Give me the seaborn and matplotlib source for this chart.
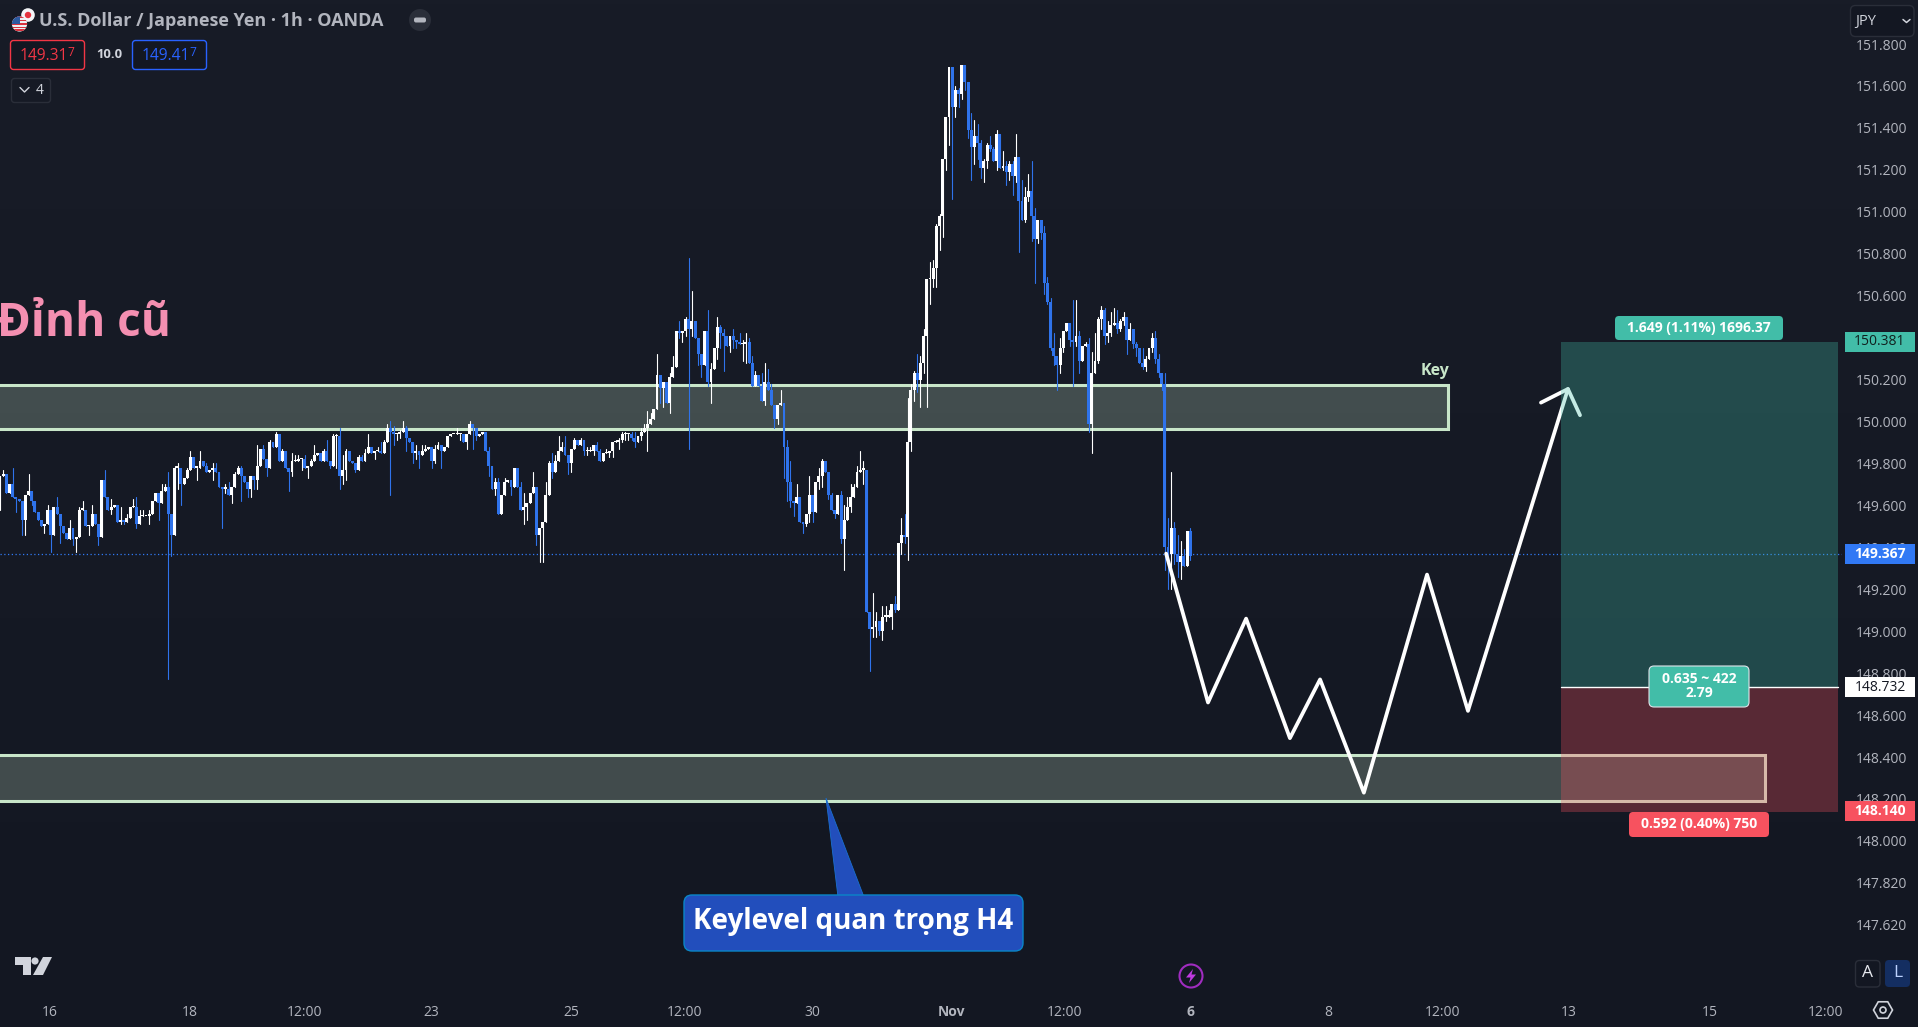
import matplotlib
matplotlib.use("Agg")
import matplotlib.pyplot as plt
from matplotlib.patches import Rectangle, FancyBboxPatch, Polygon, Circle, RegularPolygon
from matplotlib.transforms import Affine2D
import numpy as np
import pandas as pd
import seaborn as sns

# ---- hourly USD/JPY closes ----
first_open = 149.72
closes = [
149.74,149.75,149.66,149.70,149.64,149.63,149.62,149.53,149.65,149.67,149.62,149.57,149.53,149.50,149.51,149.58,
149.46,149.59,149.56,149.50,149.47,149.44,149.49,149.44,149.45,149.58,149.58,149.50,149.50,149.56,149.51,149.45,
149.72,149.64,149.58,149.59,149.60,149.52,149.53,149.52,149.54,149.59,149.59,149.51,149.55,149.55,149.55,149.56,
149.62,149.66,149.61,149.67,149.69,149.56,149.46,149.78,149.78,149.70,149.73,149.77,149.83,149.78,149.78,149.81,
149.79,149.76,149.77,149.78,149.76,149.69,149.68,149.68,149.65,149.69,149.75,149.78,149.74,149.71,149.68,149.74,
149.72,149.79,149.87,149.82,149.78,149.90,149.88,149.94,149.81,149.86,149.78,149.76,149.81,149.81,149.82,149.82,
149.78,149.79,149.81,149.84,149.85,149.81,149.86,149.81,149.79,149.93,149.93,149.74,149.77,149.86,149.81,149.80,
149.77,149.83,149.81,149.85,149.88,149.85,149.86,149.86,149.85,149.90,149.97,149.95,149.94,149.94,149.95,149.97,
149.92,149.90,149.85,149.86,149.84,149.86,149.87,149.88,149.81,149.87,149.89,149.86,149.88,149.93,149.94,149.94,
149.94,149.94,149.90,149.94,149.99,149.97,149.93,149.94,149.95,149.86,149.79,149.68,149.71,149.56,
149.65,149.71,149.72,149.69,149.78,149.69,149.58,149.59,149.61,149.66,149.69,149.46,149.49,149.52,149.65,149.80,
149.76,149.81,149.86,149.88,149.84,149.80,149.87,149.91,149.89,149.91,149.86,149.86,149.86,149.89,149.86,149.81,
149.85,149.85,149.86,149.90,149.90,149.91,149.94,149.94,149.94,149.92,149.90,149.93,149.95,149.97,149.99,150.01,
150.06,150.22,150.16,150.19,150.09,150.21,150.26,150.43,150.42,150.43,150.49,150.44,150.48,150.40,150.32,150.27,
150.43,150.19,150.25,150.35,150.45,150.42,150.41,150.36,150.41,150.39,150.38,150.37,150.37,150.38,150.28,150.17,
150.22,150.17,150.10,150.19,150.15,150.08,150.01,150.08,150.09,149.88,149.71,149.62,149.61,149.64,149.52,149.51,
149.56,149.65,149.57,149.71,149.74,149.81,149.76,149.65,149.58,149.56,149.65,149.44,149.53,149.59,149.64,149.69,
149.76,149.77,149.77,149.09,149.01,149.02,149.05,149.00,149.07,149.07,149.07,149.13,149.10,149.42,149.46,149.45,
149.90,150.15,150.23,150.20,150.28,150.41,150.68,150.68,150.73,150.93,150.98,151.25,151.45,151.69,151.50,151.58,
151.56,151.70,151.62,151.39,151.31,151.36,151.33,151.21,151.24,151.32,151.30,151.24,151.37,151.21,151.22,151.19,
151.23,151.17,151.26,151.05,150.96,151.07,151.10,150.98,150.87,150.96,150.90,150.66,150.57,150.35,150.31,150.27,
150.35,150.43,150.47,150.39,150.38,150.41,150.29,150.36,150.37,149.99,150.23,150.29,150.49,150.53,150.41,150.42,
150.46,150.47,150.44,150.48,150.50,150.39,150.44,150.37,150.35,150.28,150.26,150.30,150.35,150.40,150.30,150.23,
150.18,149.40,149.37,149.49,149.37,149.33,149.36,149.31,149.48,149.36,
]
high_wicks = {
1:149.77,4:149.78,9:149.75,15:149.60,18:149.64,22:149.53,25:149.59,26:149.62,29:149.60,33:149.77,35:149.63,38:149.59,
40:149.56,42:149.63,43:149.64,44:149.58,45:149.58,47:149.58,51:149.70,52:149.70,53:149.76,55:149.79,56:149.80,59:149.78,
60:149.86,63:149.86,65:149.80,67:149.80,68:149.80,71:149.70,72:149.71,74:149.76,75:149.79,76:149.79,81:149.89,83:149.89,
85:149.91,87:149.95,89:149.87,92:149.85,93:149.84,94:149.84,96:149.84,98:149.82,99:149.89,102:149.87,103:149.91,105:149.94,
106:149.94,107:149.97,108:149.84,109:149.87,113:149.84,114:149.84,115:149.87,116:149.94,119:149.88,120:149.90,121:149.91,
122:149.99,123:150.00,124:149.98,126:149.96,127:150.00,128:149.98,131:149.89,133:149.89,134:149.89,137:149.89,138:149.90,
144:149.97,148:150.00,154:149.88,156:149.73,157:149.73,
159:149.73,164:149.71,165:149.66,168:149.76,172:149.71,173:149.81,174:149.85,175:149.84,176:149.93,177:149.90,178:149.93,
181:149.92,183:149.92,185:149.88,186:149.88,188:149.90,189:149.87,191:149.87,194:149.91,195:149.92,196:149.95,197:149.95,
199:149.95,200:149.95,202:149.97,203:149.99,204:150.05,205:150.04,207:150.32,211:150.23,212:150.31,214:150.48,216:150.50,
217:150.78,218:150.62,223:150.53,224:150.28,226:150.50,227:150.46,228:150.44,231:150.44,233:150.42,234:150.39,235:150.42,
236:150.40,237:150.31,238:150.24,240:150.23,241:150.28,242:150.25,243:150.18,246:150.15,248:149.91,249:149.81,251:149.70,
252:149.64,255:149.74,258:149.78,259:149.82,262:149.66,264:149.65,265:149.67,266:149.60,267:149.64,268:149.70,269:149.70,
270:149.79,271:149.86,272:149.81,275:149.18,276:149.09,278:149.12,279:149.12,280:149.10,282:149.17,284:149.54,285:149.56,
286:150.11,287:150.18,
288:150.24,289:150.32,290:150.31,291:150.44,293:150.76,294:150.77,295:150.94,296:150.99,298:151.33,299:151.55,300:151.69,
301:151.60,302:151.59,303:151.70,306:151.47,307:151.44,308:151.42,309:151.34,310:151.25,311:151.33,312:151.36,313:151.31,
314:151.39,316:151.29,317:151.24,318:151.24,319:151.24,320:151.37,322:151.15,323:151.12,324:151.18,325:151.24,326:151.02,
327:150.96,329:150.93,330:150.69,331:150.59,332:150.42,334:150.40,336:150.47,338:150.58,339:150.58,340:150.43,342:150.38,
343:150.40,344:150.33,345:150.42,346:150.50,347:150.55,348:150.54,349:150.48,350:150.52,351:150.54,352:150.53,353:150.49,
354:150.52,356:150.47,358:150.38,360:150.35,361:150.31,363:150.42,364:150.43,365:150.32,366:150.23,367:150.23,
368:149.54,369:149.76,370:149.52,371:149.46,372:149.43,373:149.39,375:149.49,
}
low_wicks = {
0:149.58,5:149.57,7:149.46,8:149.46,10:149.60,14:149.47,16:149.38,19:149.42,21:149.44,23:149.41,24:149.38,28:149.46,31:149.41,
35:149.56,38:149.51,39:149.51,43:149.49,47:149.51,50:149.53,53:148.77,54:149.36,56:149.68,57:149.60,62:149.72,67:149.72,
70:149.49,71:149.66,73:149.61,76:149.62,78:149.64,79:149.64,80:149.68,81:149.68,84:149.74,91:149.67,92:149.74,95:149.77,
97:149.73,104:149.78,106:149.78,107:149.68,108:149.70,109:149.72,112:149.76,118:149.82,123:149.65,124:149.89,125:149.91,
126:149.92,128:149.86,130:149.80,131:149.82,132:149.78,136:149.78,137:149.80,139:149.78,145:149.91,147:149.87,149:149.87,
150:149.91,154:149.74,156:149.65,
161:149.65,165:149.51,166:149.53,169:149.41,170:149.33,171:149.33,174:149.73,179:149.75,180:149.76,184:149.84,185:149.84,
187:149.84,192:149.83,193:149.83,195:149.87,196:149.90,197:149.91,198:149.91,199:149.91,200:149.88,202:149.91,204:149.86,
208:150.09,209:150.07,210:150.09,211:150.04,214:150.40,215:150.38,216:150.41,217:149.87,218:150.41,220:150.27,221:150.21,
223:150.17,224:150.09,226:150.30,227:150.35,228:150.24,230:150.33,231:150.35,232:150.35,234:150.29,235:150.28,238:150.17,
241:150.08,244:149.97,245:149.99,247:149.73,248:149.62,249:149.59,250:149.55,251:149.61,253:149.47,254:149.50,255:149.52,
256:149.52,258:149.68,259:149.69,261:149.63,263:149.54,265:149.42,266:149.29,268:149.57,272:149.70,274:148.81,275:148.97,
276:148.97,277:148.98,278:148.96,279:149.05,281:149.01,282:149.09,284:149.37,285:149.42,286:149.34,287:149.86,
288:150.10,289:150.14,290:150.07,291:150.23,292:150.07,293:150.56,294:150.64,295:150.64,296:150.82,297:150.88,298:151.20,
299:151.32,300:151.06,301:151.45,302:151.50,303:151.54,304:151.58,305:151.35,306:151.15,307:151.23,308:151.25,309:151.16,
310:151.14,311:151.21,312:151.29,314:151.20,316:151.20,317:151.13,318:151.15,319:151.08,320:151.14,321:150.81,323:150.95,
324:151.05,325:150.86,326:150.66,327:150.85,328:150.87,329:150.61,330:150.56,331:150.34,332:150.27,333:150.15,334:150.23,
335:150.33,337:150.36,338:150.17,339:150.36,340:150.23,341:150.29,343:149.95,344:149.85,346:150.28,347:150.44,348:150.37,
349:150.38,350:150.41,352:150.42,353:150.43,354:150.46,355:150.32,357:150.35,358:150.31,359:150.28,360:150.25,361:150.24,
363:150.33,364:150.28,365:150.21,366:150.15,367:149.29,368:149.20,369:149.20,370:149.32,371:149.26,372:149.25,373:149.31,375:149.34,
}

# ---- drawings: prices and bar indexes ----
upper_zone = (150.172, 149.963)
lower_zone = (148.41, 148.19)
upper_zone_end = 456.3
lower_zone_end = 556.0
plan_bars = [367.4, 380.6, 392.6, 406.4, 415.9, 429.7, 449.6, 462.5, 494.0]
plan_prices = [149.37, 148.66, 149.06, 148.49, 148.77, 148.23, 149.27, 148.62, 150.155]
head_bars = [485.5, 494.0, 497.8]
head_prices = [150.09, 150.155, 150.03]
pos_start, pos_end = 491.8, 579.1
target, entry, stop, last_price = 150.381, 148.732, 148.14, 149.367

y_ticks = [151.8, 151.6, 151.4, 151.2, 151.0, 150.8, 150.6, 150.4, 150.2, 150.0, 149.8, 149.6, 149.4, 149.2,
           149.0, 148.8, 148.6, 148.4, 148.2, 148.0, 147.8, 147.6]
y_labels = ["151.800", "151.600", "151.400", "151.200", "151.000", "150.800", "150.600", "150.400", "150.200",
            "150.000", "149.800", "149.600", "149.400", "149.200", "149.000", "148.800", "148.600", "148.400",
            "148.200", "148.000", "147.820", "147.620"]
x_ticks = [15.8, 59.9, 96.1, 135.8, 179.9, 215.8, 255.8, 299.9, 335.5, 375.2, 418.4, 454.6, 494.3, 538.8, 575.0]
x_labels = ["16", "18", "12:00", "23", "25", "12:00", "30", "Nov", "12:00", "6", "8", "12:00", "13", "15", "12:00"]

BLUE = "#2f73eb"
GREEN = "#42bda8"
RED = "#f7525f"
ZONE = "#c8e6c9"
GREY = "#b2b5be"

sns.set_theme(style="dark", rc={"axes.grid": False, "axes.facecolor": "none", "axes.edgecolor": "none"})
plt.rcParams["font.family"] = ["Open Sans", "Noto Sans", "DejaVu Sans"]

W, H = 1918, 1027
fig = plt.figure(figsize=(W / 100, H / 100), dpi=100)
px = Affine2D().scale(1, -1).translate(0, H)  # pixel placement of interface chrome

bg = fig.add_axes([0, 0, 1, 1], zorder=-5)
bg.imshow(np.linspace(0, 1, 256).reshape(-1, 1), aspect="auto",
          cmap=matplotlib.colors.LinearSegmentedColormap.from_list("b", ["#181c27", "#131722"]))
bg.axis("off")

ax = fig.add_axes([0, 37 / H, 1842 / W, 990 / H])
ax.set_xlim(0, 1842 / 3.174)
ax.set_ylim(147.289, 152.01)

# zones
for (top, bot), end in ((upper_zone, upper_zone_end), (lower_zone, lower_zone_end)):
    ax.add_patch(Rectangle((-5, bot), end + 5, top - bot, fc=ZONE, alpha=0.25, ec="none", zorder=1))
    ax.add_patch(Rectangle((-5, bot), end + 5, top - bot, fc="none", ec=ZONE, lw=2.2, zorder=1.2))

ax.axhline(last_price, color="#3179f5", lw=0.9, ls=(0, (1, 2)), zorder=1.5)

# candles
bars = np.arange(len(closes))
c = np.array(closes)
o = np.r_[first_open, c[:-1]]
is_up = c >= o
hi = np.array([max(o[i], c[i], high_wicks.get(i, 0)) for i in bars])
lo = np.array([min(o[i], c[i], low_wicks.get(i, 999)) for i in bars])
wick_df = pd.DataFrame({"bar": np.r_[bars, bars], "price": np.r_[lo, hi], "side": np.r_[is_up, is_up]})
sns.lineplot(data=wick_df, x="bar", y="price", hue="side", units="bar", estimator=None,
             palette={True: "white", False: BLUE}, lw=0.8, legend=False, ax=ax, zorder=2)
body_low = np.minimum(o, c)
body_h = np.maximum(np.abs(o - c), 0.006)
ax.bar(bars[is_up], body_h[is_up], bottom=body_low[is_up], width=0.92, color="white", lw=0, zorder=2.2)
ax.bar(bars[~is_up], body_h[~is_up], bottom=body_low[~is_up], width=0.92, color=BLUE, lw=0, zorder=2.2)

# projected path
sns.lineplot(x=plan_bars, y=plan_prices, sort=False, estimator=None, color="white", lw=2.7, ax=ax, zorder=3)
sns.lineplot(x=head_bars, y=head_prices, sort=False, estimator=None, color="white", lw=2.7, ax=ax, zorder=3)

# long position box
ax.add_patch(Rectangle((pos_start, entry), pos_end - pos_start, target - entry, fc=GREEN, alpha=0.3, ec="none", zorder=4))
ax.add_patch(Rectangle((pos_start, stop), pos_end - pos_start, entry - stop, fc=RED, alpha=0.3, ec="none", zorder=4))
ax.plot([pos_start, pos_end], [entry, entry], color="white", lw=1, zorder=4.2)

ax.text(452, 150.24, "Key", color=ZONE, fontsize=11.5, fontweight="bold", ha="center", va="center", zorder=5)
ax.text(-1, 150.465, "Đỉnh cũ", color="#f48fb1", fontsize=33, fontweight="bold", ha="left", va="center", zorder=5)

# axes
ax.set_xlabel("")
ax.set_ylabel("")
ax.yaxis.tick_right()
ax.set_yticks(y_ticks)
ax.set_yticklabels(y_labels, color=GREY, fontsize=10)
ax.set_xticks(x_ticks)
ax.set_xticklabels(x_labels, color=GREY, fontsize=10)
ax.tick_params(axis="y", length=0, pad=10)
ax.tick_params(axis="x", length=0, pad=11)
ax.get_xticklabels()[7].set_fontweight("bold")
ax.get_xticklabels()[9].set_fontweight("bold")
for s in ax.spines.values():
    s.set_visible(False)


def box(x0, y0, x1, y1, fc, ec="none", lw=0, r=3, z=10):
    p = FancyBboxPatch((x0, y0), x1 - x0, y1 - y0, boxstyle=f"round,pad=0,rounding_size={r}",
                       fc=fc, ec=ec, lw=lw, transform=px, zorder=z)
    fig.add_artist(p)
    return p


def label(x, y, s, color="white", size=10, ha="center", weight="normal", z=11):
    return fig.text(x, y, s, color=color, fontsize=size, ha=ha, va="center", fontweight=weight,
                    transform=px, zorder=z, linespacing=1.0)


def right_tag(price, fc, tc, weight="normal"):
    y = 341.5 + (target - price) * 209.7
    fig.add_artist(Rectangle((1845, y - 10), 70, 20, fc=fc, ec="none", transform=px, zorder=10))
    label(1880, y, f"{price:.3f}", tc, 10, weight=weight)


right_tag(target, GREEN, "#10201e")
right_tag(last_price, "#3179f5", "white", "bold")
right_tag(entry, "white", "#131722")
right_tag(stop, RED, "white", "bold")

# position labels
box(1615, 316, 1783, 340, GREEN, r=4)
label(1699, 328, "1.649 (1.11%) 1696.37", "white", 10, weight="bold")
box(1649, 666, 1749, 707, GREEN, ec="#dfe3ea", lw=0.8, r=5)
label(1699, 686, "0.635 ~ 422\n2.79", "white", 10, weight="bold")
box(1629, 812, 1769, 837, RED, r=4)
label(1699, 824, "0.592 (0.40%) 750", "white", 10, weight="bold")

# callout
tail = Polygon([(826, 798), (838, 897), (864, 897)], closed=True, fc="#224ebc", ec="#1a6fd0", lw=0.6,
               transform=px, zorder=9)
fig.add_artist(tail)
box(684, 895, 1023, 951, "#224ebc", ec="#0a86c8", lw=1, r=8)
label(853, 921, "Keylevel quan trọng H4", "white", 20, weight="bold")

# header
jp = Circle((28, 15), 6.8, fc="#f4f5f8", ec="none", transform=px, zorder=10)
fig.add_artist(jp)
fig.add_artist(Circle((28, 15), 3.2, fc="#e5333f", ec="none", transform=px, zorder=10.1))
us = Circle((19.5, 24), 7.6, fc="#eef0f4", ec="none", transform=px, zorder=10.2)
fig.add_artist(us)
for yy in (17, 20.5, 24, 27.5, 30):
    st = Rectangle((12, yy - 0.9), 16, 1.8, fc="#d9333f", ec="none", transform=px, zorder=10.3)
    fig.add_artist(st)
    st.set_clip_path(us)
cant = Rectangle((12, 16), 8, 8, fc="#2c5aa0", ec="none", transform=px, zorder=10.4)
fig.add_artist(cant)
cant.set_clip_path(us)
label(39, 21, "U.S. Dollar / Japanese Yen · 1h · OANDA", GREY, 13, ha="left", weight="bold")
fig.add_artist(Circle((420, 20), 11, fc="#2a2e39", ec="none", transform=px, zorder=10))
box(414, 17.5, 426, 22.5, "#b2b5be", r=2, z=11)

box(10.5, 40.5, 84.5, 69.5, "#131722", ec="#f23645", lw=1, r=3)
label(20, 56, "149.31", "#f23645", 11.2, ha="left")
label(67, 53, "7", "#f23645", 8.6, ha="left")
label(96, 55, "10.0", "#d1d4dc", 9.4, ha="left", weight="bold")
box(132.5, 40.5, 206.5, 69.5, "#131722", ec="#2962ff", lw=1, r=3)
label(142, 56, "149.41", "#2962ff", 11.2, ha="left")
label(189, 53, "7", "#2962ff", 8.6, ha="left")
box(11.5, 78.5, 50.5, 102.5, "#161a25", ec="#2a2e39", lw=1, r=3)
fig.add_artist(matplotlib.lines.Line2D([20, 24.5, 29], [87.5, 92, 87.5], color="#d1d4dc", lw=1, transform=px, zorder=11))
label(40, 90, "4", "#d1d4dc", 10)

# JPY selector
box(1850.5, 5.5, 1914, 36.5, "#131722", ec="#2a2e39", lw=1, r=5)
label(1855, 21.5, "JPY", "#d1d4dc", 10.5, ha="left")
fig.add_artist(matplotlib.lines.Line2D([1903, 1906.5, 1910], [19.5, 22.5, 19.5], color="#d1d4dc", lw=1.1, transform=px, zorder=11))

# bottom right controls
box(1855.5, 960.5, 1880, 987, "#131722", ec="#2a2e39", lw=1, r=4)
label(1867.7, 973, "A", "#e6e8ee", 12.5)
box(1885, 960, 1910, 987, "#142e61", r=4)
label(1897.5, 973, "L", "#bcd2ff", 12.5)
fig.add_artist(RegularPolygon((1883, 1010), 6, radius=9.5, orientation=np.pi / 6, fc="none", ec="#d1d4dc", lw=1.2,
                              transform=px, zorder=11))
fig.add_artist(Circle((1883, 1010), 3, fc="none", ec="#d1d4dc", lw=1.2, transform=px, zorder=11))

# logo
logo = "#d1d4dc"
fig.add_artist(Polygon([(15, 957), (31, 957), (31, 975), (23, 975), (23, 965), (15, 965)], fc=logo, ec="none", transform=px, zorder=10))
fig.add_artist(Circle((35, 961), 3.6, fc=logo, ec="none", transform=px, zorder=10))
fig.add_artist(Polygon([(43, 957), (52, 957), (43, 975), (33, 975)], fc=logo, ec="none", transform=px, zorder=10))

# lightning marker
fig.add_artist(Circle((1191, 976), 11.5, fc="none", ec="#a02cc0", lw=1.5, transform=px, zorder=10))
fig.add_artist(Polygon([(1193, 969), (1186, 977.5), (1190.5, 977.5), (1189, 983), (1196, 974.5), (1191.5, 974.5)],
                       fc="#c03ae0", ec="none", transform=px, zorder=10))

fig.savefig("out.png", dpi=100, facecolor="#131722")
